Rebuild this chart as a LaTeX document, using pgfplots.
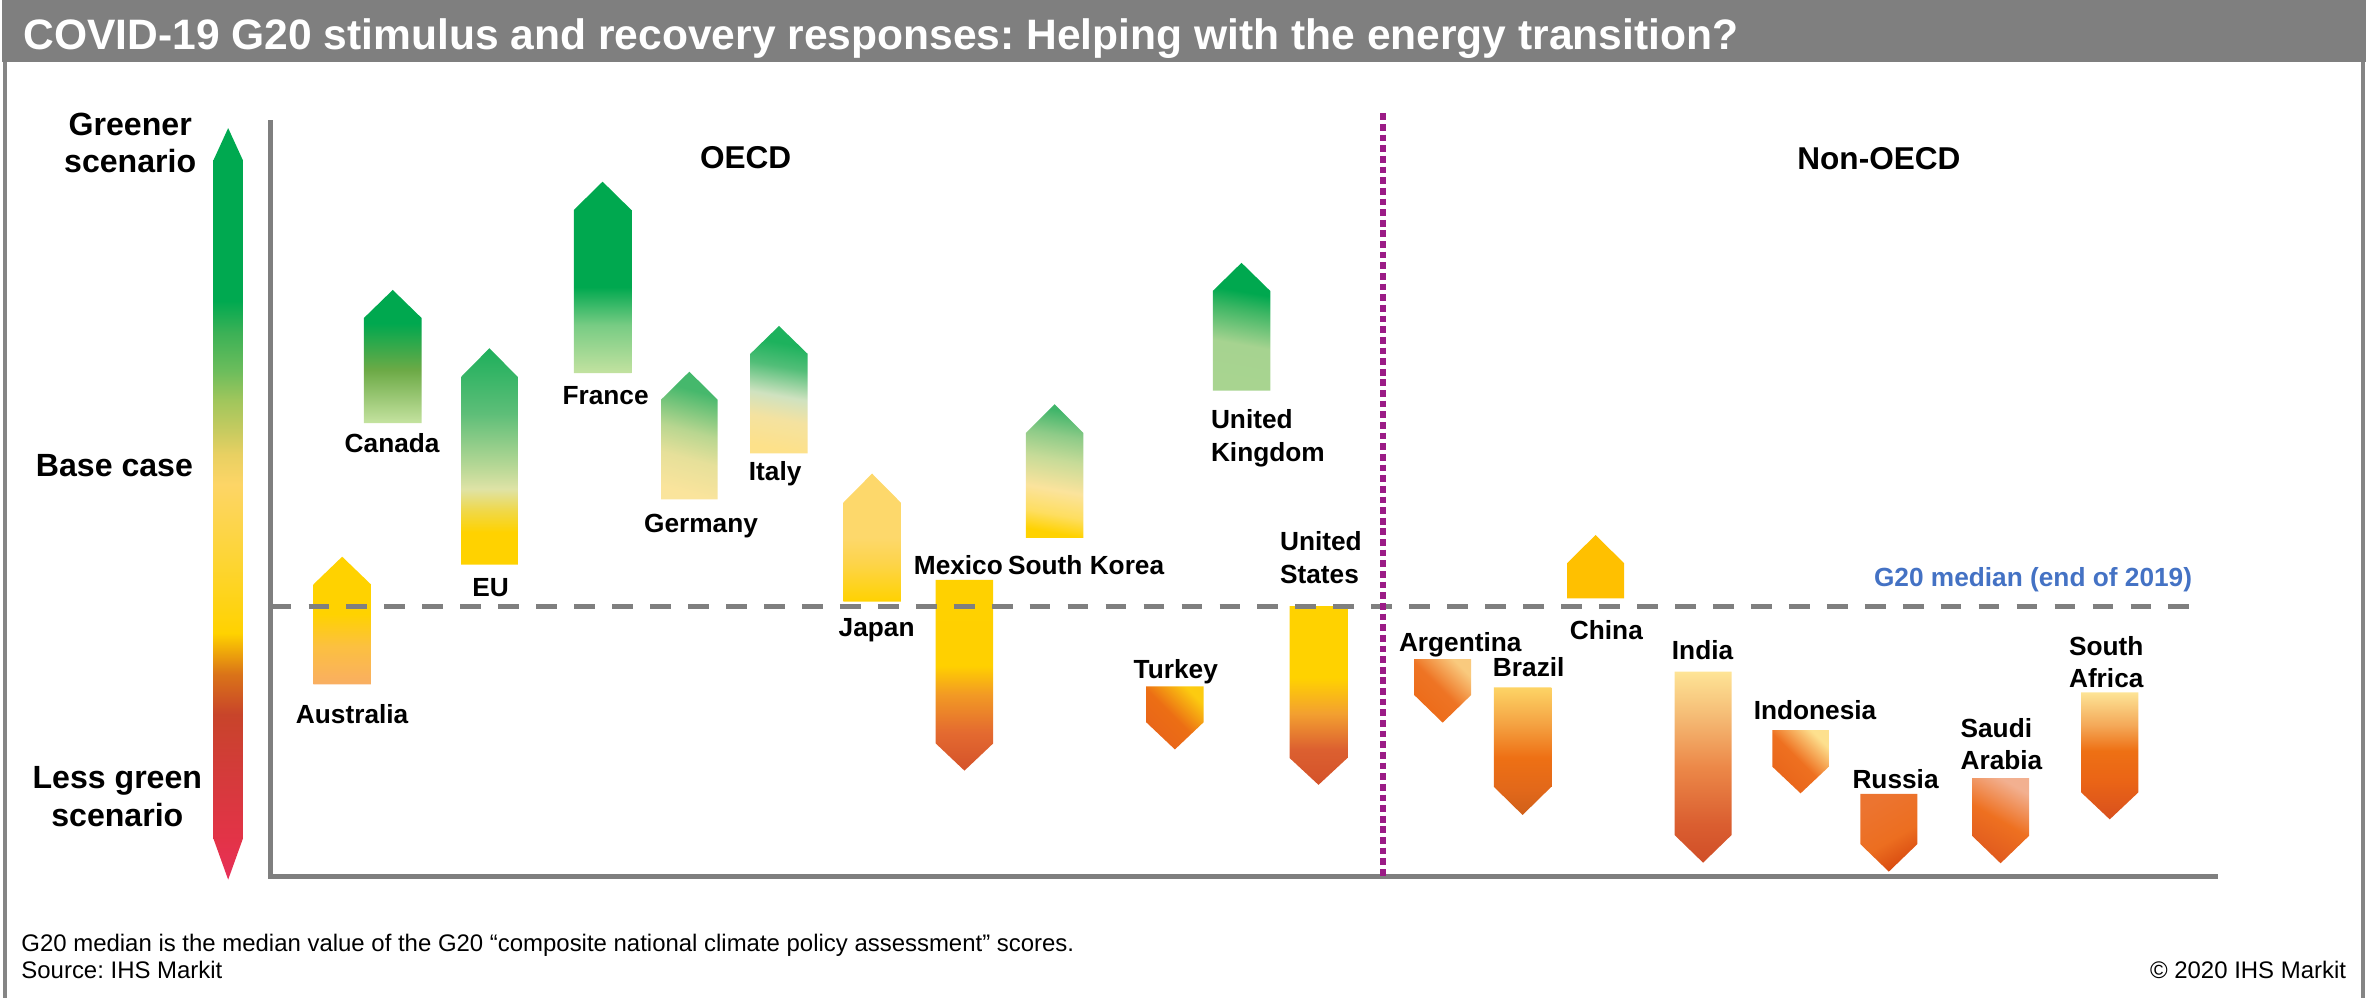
\documentclass[border=0pt]{standalone}
\usepackage{pgfplots}
\pgfplotsset{compat=1.18}
\usepackage{fontspec}
\setmainfont{Liberation Sans}
\frenchspacing

\newcommand{\hc}[1]{\definecolor{x#1}{HTML}{#1}}
\hc{E8305A}\hc{E33348}\hc{D23C38}\hc{C8442A}\hc{DA7418}\hc{EFA80A}\hc{FFD200}\hc{FDD535}\hc{FDD566}\hc{E8D062}\hc{C8CB60}\hc{A0C65C}\hc{6DBD5C}\hc{3BB156}\hc{00A950}
\hc{FCC040}\hc{F9AE62}\hc{C5E3A0}\hc{6CAA46}\hc{00A84F}\hc{1DAF5B}\hc{5DBE78}\hc{B8D896}\hc{DFE3A6}\hc{F0D848}
\hc{C3E2A0}\hc{78CC84}\hc{FAE49C}\hc{E6E09A}\hc{B8D690}\hc{46B86C}\hc{3CB86A}
\hc{FDE18A}\hc{F4E2A0}\hc{CFE2C0}\hc{52BE78}\hc{1DB25D}\hc{FDD44A}\hc{FDD86B}
\hc{D4522A}\hc{E46A30}\hc{F29A24}\hc{FFD000}\hc{FEDE60}\hc{FBE39C}\hc{C6DB98}\hc{8ECB88}\hc{40B56A}
\hc{E8641A}\hc{EC6E14}\hc{FCCB10}\hc{A8D490}\hc{A6D390}\hc{3DB664}\hc{DC6030}\hc{F3A030}
\hc{EC6A18}\hc{EE7424}\hc{F9CA7E}\hc{D0601A}\hc{E2681A}\hc{EE7014}\hc{F4A040}\hc{FDD466}\hc{FFC000}
\hc{D04E28}\hc{DA5E30}\hc{EC8848}\hc{F4B872}\hc{FEE496}\hc{EE7020}\hc{FDE08E}\hc{D84A10}\hc{EC6E20}\hc{EC7430}
\hc{E05A1E}\hc{F2B090}\hc{D8501E}\hc{EA6416}\hc{F4A858}\hc{FDE496}
\definecolor{g7f}{HTML}{7F7F7F}
\definecolor{gfr}{HTML}{858585}
\definecolor{medblue}{HTML}{4472C4}
\definecolor{purp}{HTML}{9B1B86}

\pgfdeclareverticalshading{shScale}{100bp}{color(0bp)=(xE8305A); color(25bp)=(xE8305A); color(27.6bp)=(xE33348); color(32.7bp)=(xD23C38); color(36bp)=(xC8442A); color(38.7bp)=(xDA7418); color(40.2bp)=(xEFA80A); color(41.4bp)=(xFFD200); color(46.3bp)=(xFDD535); color(51.3bp)=(xFDD566); color(53.3bp)=(xE8D062); color(54.8bp)=(xC8CB60); color(56.9bp)=(xA0C65C); color(58.8bp)=(x6DBD5C); color(61.4bp)=(x3BB156); color(63.5bp)=(x00A950); color(100bp)=(x00A950)}
\pgfdeclareverticalshading{shAus}{100bp}{color(0bp)=(xF9AE62); color(25bp)=(xF9AE62); color(40bp)=(xFCC040); color(52.5bp)=(xFFD200); color(100bp)=(xFFD200)}
\pgfdeclareverticalshading{shCan}{100bp}{color(0bp)=(xC5E3A0); color(25bp)=(xC5E3A0); color(45bp)=(x6CAA46); color(62.5bp)=(x00A84F); color(100bp)=(x00A84F)}
\pgfdeclareverticalshading{shEU}{100bp}{color(0bp)=(xFFD200); color(32.5bp)=(xFFD200); color(37.5bp)=(xF0D848); color(42.5bp)=(xDFE3A6); color(47.5bp)=(xB8D896); color(60bp)=(x5DBE78); color(75bp)=(x1DAF5B); color(100bp)=(x1DAF5B)}
\pgfdeclareverticalshading{shFra}{100bp}{color(0bp)=(xC3E2A0); color(25bp)=(xC3E2A0); color(37.5bp)=(x78CC84); color(47.5bp)=(x00A84F); color(100bp)=(x00A84F)}
\pgfdeclareverticalshading{shGer}{100bp}{color(0bp)=(xFAE49C); color(25bp)=(xFAE49C); color(40bp)=(xE6E09A); color(52bp)=(xB8D690); color(70bp)=(x46B86C); color(100bp)=(x3CB86A)}
\pgfdeclareverticalshading{shIta}{100bp}{color(0bp)=(xFDE18A); color(25bp)=(xFDE18A); color(37.5bp)=(xF4E2A0); color(47.5bp)=(xCFE2C0); color(60bp)=(x52BE78); color(70bp)=(x1DB25D); color(100bp)=(x1DB25D)}
\pgfdeclareverticalshading{shJap}{100bp}{color(0bp)=(xFFD200); color(25bp)=(xFFD200); color(40bp)=(xFDD44A); color(50bp)=(xFDD86B); color(100bp)=(xFDD86B)}
\pgfdeclareverticalshading{shMex}{100bp}{color(0bp)=(xD4522A); color(25bp)=(xD4522A); color(35bp)=(xE46A30); color(45bp)=(xF29A24); color(52.5bp)=(xFFD000); color(100bp)=(xFFD200)}
\pgfdeclareverticalshading{shKor}{100bp}{color(0bp)=(xFFD200); color(25bp)=(xFFD200); color(32.5bp)=(xFEDE60); color(42.5bp)=(xFBE39C); color(55bp)=(xC6DB98); color(65bp)=(x8ECB88); color(75bp)=(x40B56A); color(100bp)=(x40B56A)}
\pgfdeclareverticalshading{shTur}{100bp}{color(0bp)=(xE8641A); color(25bp)=(xE8641A); color(50bp)=(xEC6E14); color(75bp)=(xFCCB10); color(100bp)=(xFCCB10)}
\pgfdeclareverticalshading{shUK}{100bp}{color(0bp)=(xA8D490); color(25bp)=(xA8D490); color(42.5bp)=(xA6D390); color(57.5bp)=(x3DB664); color(65bp)=(x00A84F); color(100bp)=(x00A84F)}
\pgfdeclareverticalshading{shUS}{100bp}{color(0bp)=(xD4522A); color(25bp)=(xD4522A); color(35bp)=(xDC6030); color(45bp)=(xF3A030); color(55bp)=(xFFD200); color(100bp)=(xFFD200)}
\pgfdeclareverticalshading{shArg}{100bp}{color(0bp)=(xEC6A18); color(25bp)=(xEC6A18); color(50bp)=(xEE7424); color(75bp)=(xF9CA7E); color(100bp)=(xF9CA7E)}
\pgfdeclareverticalshading{shBra}{100bp}{color(0bp)=(xD0601A); color(25bp)=(xD0601A); color(35bp)=(xE2681A); color(47.5bp)=(xEE7014); color(60bp)=(xF4A040); color(75bp)=(xFDD466); color(100bp)=(xFDD466)}
\pgfdeclareverticalshading{shInd}{100bp}{color(0bp)=(xD04E28); color(25bp)=(xD04E28); color(35bp)=(xDA5E30); color(50bp)=(xEC8848); color(62.5bp)=(xF4B872); color(75bp)=(xFEE496); color(100bp)=(xFEE496)}
\pgfdeclareverticalshading{shIdn}{100bp}{color(0bp)=(xE8641A); color(25bp)=(xE8641A); color(50bp)=(xEE7020); color(75bp)=(xFDE08E); color(100bp)=(xFDE08E)}
\pgfdeclareverticalshading{shRus}{100bp}{color(0bp)=(xD84A10); color(25bp)=(xD84A10); color(45bp)=(xEC6E20); color(75bp)=(xEC7430); color(100bp)=(xEC7430)}
\pgfdeclareverticalshading{shSau}{100bp}{color(0bp)=(xE05A1E); color(25bp)=(xE05A1E); color(50bp)=(xEE7020); color(75bp)=(xF2B090); color(100bp)=(xF2B090)}
\pgfdeclareverticalshading{shSAf}{100bp}{color(0bp)=(xD8501E); color(25bp)=(xD8501E); color(40bp)=(xEA6416); color(52bp)=(xEE7014); color(62bp)=(xF4A858); color(75bp)=(xFDE496); color(100bp)=(xFDE496)}

% arrow: xl, xc, xr, flat end, shoulder, tip, fill options
\newcommand{\arr}[7]{\addplot[draw=none, #7] coordinates {(#1,#4) (#1,#5) (#2,#6) (#3,#5) (#3,#4) (#1,#4)};}

\newcommand{\lab}{\fontsize{7.4}{8.9}\bfseries\selectfont}
\newcommand{\side}{\fontsize{9.05}{10.9}\bfseries\selectfont}
\newcommand{\grp}{\fontsize{8.9}{10.7}\bfseries\selectfont}
\newcommand{\foot}{\fontsize{6.75}{8.1}\selectfont}

\begin{document}
\begin{tikzpicture}
\begin{axis}[scale only axis, width=235.2mm, height=98.85mm,
  xmin=0, xmax=1568, ymin=0, ymax=659, y dir=reverse,
  axis lines=none, clip=false]

\coordinate (TL) at (axis cs:0,0);
\coordinate (BR) at (axis cs:1568,659);
% title bar and frame
\fill[g7f] (axis cs:1.5,0) rectangle (axis cs:1562.5,40.7);
\draw[gfr, line width=1.1pt] (axis cs:3.3,40.7) -- (axis cs:3.3,659);
\draw[gfr, line width=1.1pt] (axis cs:1560.5,40.7) -- (axis cs:1560.5,659);
\node[anchor=base west, text=white, inner sep=0pt, font=\fontsize{12}{14}\bfseries\selectfont] at (axis cs:15,33) {COVID-19 G20 stimulus and recovery responses: Helping with the energy transition?};

% plot frame (left and bottom)
\addplot[g7f, line width=1.3pt, line join=miter] coordinates {(178.7,79.5) (178.7,579) (1464.8,579)};

% left scale arrow
\addplot[draw=none, shading=shScale] coordinates {(141,105.8) (150.7,84.6) (160.4,105.8) (160.4,554) (150.7,581) (141,554) (141,105.8)};

% country arrows: xl, xc, xr, start, shoulder, tip
\arr{207}{226}{245}{452}{386}{367.7}{shading=shAus}
\arr{240.4}{259.4}{278.4}{279.5}{210}{191.5}{shading=shCan}
\arr{304.5}{323.25}{342}{373}{249}{230}{shading=shEU}
\arr{379}{398}{417}{246.5}{138.7}{120}{shading=shFra}
\arr{436.6}{455.3}{474}{329.8}{264}{245.5}{shading=shGer, shading angle=-15}
\arr{495.5}{514.5}{533.5}{299.4}{233.8}{215.3}{shading=shIta, shading angle=-10}
\arr{557}{576}{595}{397.3}{332}{312.8}{shading=shJap}
\arr{618}{637}{656}{383}{491}{509}{shading=shMex}
\arr{677.5}{696.5}{715.5}{355.3}{286}{267}{shading=shKor, shading angle=-10}
\arr{757}{776}{795}{453.4}{477}{495}{shading=shTur, shading angle=-45}
\arr{801}{820}{839}{258}{192.2}{173.6}{shading=shUK, shading angle=-10}
\arr{851.7}{870.85}{890}{400.4}{500.6}{518.4}{shading=shUS}
\arr{934}{952.85}{971.7}{435.3}{459}{477.3}{shading=shArg, shading angle=-45}
\arr{986.6}{1005.65}{1024.7}{454}{519.6}{538.3}{shading=shBra}
\arr{1035}{1053.85}{1072.7}{395.2}{372}{353.4}{fill=xFFC000}
\arr{1106}{1124.85}{1143.7}{443.6}{551.5}{569.8}{shading=shInd}
\arr{1170.6}{1189.25}{1207.9}{482.2}{506.4}{524}{shading=shIdn, shading angle=-45}
\arr{1228.7}{1247.55}{1266.4}{524.4}{557.5}{575.7}{shading=shRus, shading angle=30}
\arr{1302.5}{1321.35}{1340.2}{514}{552}{570.2}{shading=shSau, shading angle=-30}
\arr{1374.5}{1393.45}{1412.4}{457.3}{523.3}{541.2}{shading=shSAf}

% G20 median and OECD divider
\addplot[g7f, line width=1.35pt, dash pattern=on 5.85pt off 4.85pt] coordinates {(178.7,400.7) (1452,400.7)};
\addplot[purp, line width=1.55pt, dash pattern=on 1.9pt off 1.1pt] coordinates {(913.4,74.9) (913.4,581)};

% side labels
\node[anchor=base, inner sep=0pt, font=\side] at (axis cs:86,89.6) {Greener};
\node[anchor=base, inner sep=0pt, font=\side] at (axis cs:86,113.9) {scenario};
\node[anchor=base, inner sep=0pt, font=\side] at (axis cs:75.6,314.4) {Base case};
\node[anchor=base, inner sep=0pt, font=\side] at (axis cs:77.5,521) {Less green};
\node[anchor=base, inner sep=0pt, font=\side] at (axis cs:77.5,546.2) {scenario};

% group labels
\node[anchor=base, inner sep=0pt, font=\grp] at (axis cs:492.5,111.5) {OECD};
\node[anchor=base, inner sep=0pt, font=\grp] at (axis cs:1241,111.8) {Non-OECD};
\node[anchor=base west, inner sep=0pt, text=medblue, font=\lab] at (axis cs:1237.3,387.5) {G20 median (end of 2019)};

% country labels
\node[anchor=base, inner sep=0pt, font=\lab] at (axis cs:232.6,477.7) {Australia};
\node[anchor=base, inner sep=0pt, font=\lab] at (axis cs:259,299) {Canada};
\node[anchor=base, inner sep=0pt, font=\lab] at (axis cs:324,393.8) {EU};
\node[anchor=base, inner sep=0pt, font=\lab] at (axis cs:400,267.2) {France};
\node[anchor=base, inner sep=0pt, font=\lab] at (axis cs:463,351.5) {Germany};
\node[anchor=base, inner sep=0pt, font=\lab] at (axis cs:512,317.7) {Italy};
\node[anchor=base, inner sep=0pt, font=\lab] at (axis cs:579,420.2) {Japan};
\node[anchor=base, inner sep=0pt, font=\lab] at (axis cs:633,379.2) {Mexico};
\node[anchor=base, inner sep=0pt, font=\lab] at (axis cs:717.4,379.2) {South Korea};
\node[anchor=base, inner sep=0pt, font=\lab] at (axis cs:776.6,448.2) {Turkey};
\node[anchor=base west, inner sep=0pt, font=\lab] at (axis cs:799.4,282.9) {United};
\node[anchor=base west, inner sep=0pt, font=\lab] at (axis cs:799.4,304.5) {Kingdom};
\node[anchor=base west, inner sep=0pt, font=\lab] at (axis cs:845,363.5) {United};
\node[anchor=base west, inner sep=0pt, font=\lab] at (axis cs:845,385.2) {States};
\node[anchor=base, inner sep=0pt, font=\lab] at (axis cs:964.5,430) {Argentina};
\node[anchor=base, inner sep=0pt, font=\lab] at (axis cs:1009.7,446.5) {Brazil};
\node[anchor=base, inner sep=0pt, font=\lab] at (axis cs:1061,422.2) {China};
\node[anchor=base, inner sep=0pt, font=\lab] at (axis cs:1124.5,435.8) {India};
\node[anchor=base, inner sep=0pt, font=\lab] at (axis cs:1198.8,475) {Indonesia};
\node[anchor=base, inner sep=0pt, font=\lab] at (axis cs:1252,520.5) {Russia};
\node[anchor=base west, inner sep=0pt, font=\lab] at (axis cs:1294.5,486.8) {Saudi};
\node[anchor=base west, inner sep=0pt, font=\lab] at (axis cs:1294.5,508.2) {Arabia};
\node[anchor=base west, inner sep=0pt, font=\lab] at (axis cs:1366.1,433.2) {South};
\node[anchor=base west, inner sep=0pt, font=\lab] at (axis cs:1366.1,454.2) {Africa};

% footer
\node[anchor=base west, inner sep=0pt, font=\foot] at (axis cs:13.7,628.6) {G20 median is the median value of the G20 “composite national climate policy assessment” scores.};
\node[anchor=base west, inner sep=0pt, font=\foot] at (axis cs:13.7,646) {Source: IHS Markit};
\node[anchor=base east, inner sep=0pt, font=\foot] at (axis cs:1550,646.5) {© 2020 IHS Markit};
\end{axis}
\pgfresetboundingbox
\path (TL) rectangle (BR);
\end{tikzpicture}
\end{document}
